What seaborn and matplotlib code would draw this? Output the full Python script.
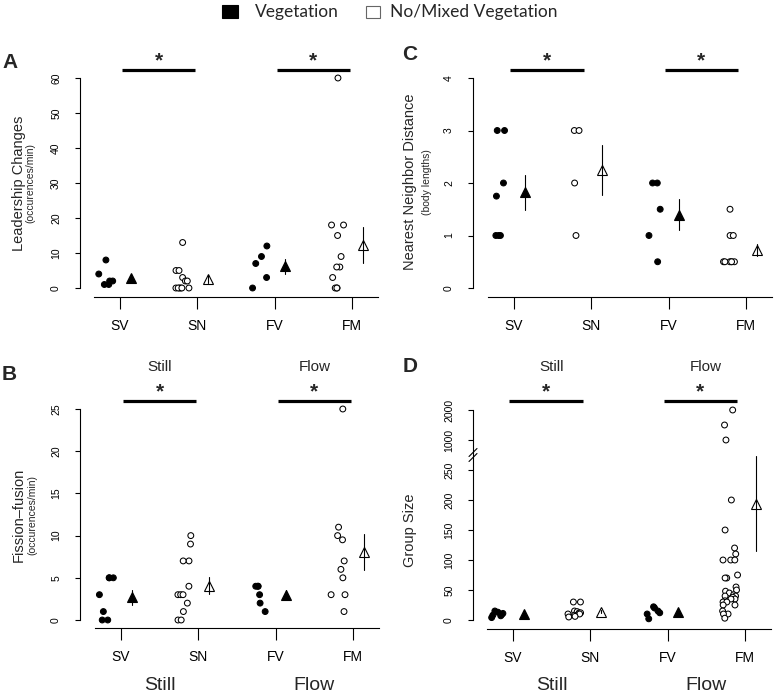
import numpy as np
import pandas as pd
import matplotlib
matplotlib.use("Agg")
import matplotlib.pyplot as plt
import matplotlib.transforms as mtrans
from matplotlib.patches import Rectangle
from matplotlib.lines import Line2D
import seaborn as sns

# ---------------- data ----------------
categories = ["SV", "SN", "FV", "FM"]
filled_groups = ["SV", "FV"]

lead_sv = [4, 2, 1, 1, 2, 8]
lead_sn = [13, 5, 5, 3, 2, 2, 0, 0, 0, 0, 0, 0]
lead_fv = [3, 0, 9, 12, 7]
lead_fm = [60, 18, 18, 15, 9, 6, 6, 3, 0, 0, 0]
lead_ticks = [0, 10, 20, 30, 40, 50, 60]

nnd_sv = [3, 3, 2, 1.75, 1, 1, 1]
nnd_sn = [3, 3, 2, 1]
nnd_fv = [2, 2, 1.5, 1, 0.5]
nnd_fm = [1.5, 1, 1, 0.5, 0.5, 0.5, 0.5, 0.5, 0.5]
nnd_ticks = [0, 1, 2, 3, 4]

ff_sv = [5, 5, 5, 3, 1, 0, 0]
ff_sn = [10, 9, 7, 7, 4, 3, 3, 3, 2, 1, 0, 0]
ff_fv = [4, 4, 4, 3, 2, 1]
ff_fm = [25, 11, 10, 9.5, 7, 6, 5, 3, 3, 1]
ff_ticks = [0, 5, 10, 15, 20, 25]

gs_sv = [15, 13, 11, 9, 8, 7, 4]
gs_sn = [30, 30, 15, 14, 12, 12, 10, 10, 8, 6, 5]
gs_fv = [22, 20, 15, 12, 10, 2]
gs_fm = [2000, 1500, 1000, 200, 150, 120, 110, 100, 100, 100, 75, 70, 70,
         55, 50, 48, 45, 42, 40, 40, 38, 35, 35, 32, 30, 30, 25, 25, 15, 10, 10, 3]
gs_ticks = [0, 50, 100, 150, 200, 250, 1000, 2000]

legend_labels = ["Vegetation", "No/Mixed Vegetation"]
treatments = ["Still", "Flow"]

# ---------------- style ----------------
sns.set_style("ticks")
plt.rcParams['font.family'] = ['Liberation Sans', 'DejaVu Sans']
np.random.seed(7)

W, H = 777, 695
fig = plt.figure(figsize=(W / 100, H / 100), dpi=100)
SP = 77.3  # px per category


def fx(px):
    return px / W


def fy(py):
    return 1 - py / H


def gs_fwd(v):
    v = np.asarray(v, dtype=float)
    return np.where(v <= 280, v, np.where(v < 1000, 280 + (v - 280) * (20 / 720), 300 + (v - 1000) * 0.05))


def gs_inv(t):
    t = np.asarray(t, dtype=float)
    return np.where(t <= 280, t, np.where(t < 300, 280 + (t - 280) * 36, 1000 + (t - 300) * 20))


def make_df(vals):
    rows = []
    for cat, v in zip(categories, vals):
        for x in v:
            rows.append({"group": cat, "value": x,
                         "fill": "filled" if cat in filled_groups else "open"})
    df = pd.DataFrame(rows)
    code = df["group"].map({c: i for i, c in enumerate(categories)})
    df["xp"] = code - 0.19
    df["xm"] = code + 0.14
    return df


def panel(vals, ticks, spine_px, tick0_px, y0_px, ytop_px, ytop_t, xaxis_px, top_px,
          bar_px, star_px, bar_span, broken=False):
    df = make_df(vals)
    right_px = tick0_px + 3.42 * SP
    ax = fig.add_axes([fx(spine_px), fy(xaxis_px), (right_px - spine_px) / W,
                       (xaxis_px - top_px) / H])
    ax.patch.set_visible(False)
    sns.stripplot(data=df, x="xp", y="value", hue="fill", native_scale=True,
                  jitter=0.1, palette={"filled": "black", "open": "white"},
                  edgecolor="black", linewidth=0.75, size=4.2, legend=False,
                  ax=ax, zorder=3)
    for fl, fc in (("filled", "black"), ("open", "white")):
        sub = df[df["fill"] == fl]
        sns.pointplot(data=sub, x="xm", y="value", native_scale=True,
                      errorbar="se", markers="^", linestyles="none",
                      color="black", markersize=7, markeredgewidth=0.8,
                      markerfacecolor=fc, markeredgecolor="black",
                      err_kws={"linewidth": 0.8, "color": "black"}, ax=ax)
    ppu = (y0_px - ytop_px) / ytop_t
    lo_t = -(xaxis_px - y0_px) / ppu
    hi_t = (y0_px - top_px) / ppu
    if broken:
        ax.set_yscale("function", functions=(gs_fwd, gs_inv))
        ax.set_ylim(lo_t, float(gs_inv(hi_t)))
    else:
        ax.set_ylim(lo_t, hi_t)
    ax.set_xlim((spine_px - tick0_px) / SP, (right_px - tick0_px) / SP)
    ax.set_xticks(range(len(categories)))
    ax.set_xticklabels(categories)
    ax.set_yticks(ticks)
    ax.set_yticklabels([str(t) for t in ticks])
    ax.set_xlabel("")
    ax.set_ylabel("")
    for s in ("top", "right"):
        ax.spines[s].set_visible(False)
    for s in ("left", "bottom"):
        ax.spines[s].set_linewidth(0.8)
        ax.spines[s].set_color("black")
    ax.spines["left"].set_bounds(0, ticks[-1])
    ax.spines["bottom"].set_bounds(-0.34, 3.34)
    ax.tick_params(axis="x", length=8.6, width=0.8, pad=7, labelsize=10, colors="black")
    ax.tick_params(axis="y", length=3.6, width=0.8, pad=10, labelsize=7.5,
                   labelrotation=90, colors="black")
    for lbl in ax.get_yticklabels():
        lbl.set_va("center")
    ax.grid(False)
    # significance bars
    bt = mtrans.blended_transform_factory(ax.transData, fig.transFigure)
    for start in (0, 2):
        ax.add_line(Line2D([start + bar_span[0], start + bar_span[1]], [fy(bar_px)] * 2,
                           transform=bt, color="black", lw=2.3, clip_on=False,
                           solid_capstyle="butt"))
        ax.text(start + (bar_span[0] + bar_span[1]) / 2, fy(star_px), "*",
                transform=bt, ha="center", va="center", fontsize=15,
                fontweight="bold", clip_on=False)
    if broken:
        yb = fy(455)
        for dy in (-2.5, 2.5):
            fig.add_artist(Line2D([fx(spine_px - 4), fx(spine_px + 4)],
                                  [yb + (dy - 4) / H, yb + (dy + 4) / H],
                                  transform=fig.transFigure, color="black", lw=0.8))
    return ax, bt


# ---- Panel A ----
axA, btA = panel([lead_sv, lead_sn, lead_fv, lead_fm], lead_ticks,
                 80, 120, 288, 78, 60, 297, 40, 70, 61, (0.03, 0.97))
# ---- Panel C ----
axC, btC = panel([nnd_sv, nnd_sn, nnd_fv, nnd_fm], nnd_ticks,
                 473, 514, 288, 78, 4, 297, 40, 70, 61, (-0.05, 0.9))
# ---- Panel B ----
axB, btB = panel([ff_sv, ff_sn, ff_fv, ff_fm], ff_ticks,
                 80, 121, 620, 409, 25, 628, 380, 401, 392, (0.03, 0.97))
# ---- Panel D ----
axD, btD = panel([gs_sv, gs_sn, gs_fv, gs_fm], gs_ticks,
                 473, 513, 620, 410, 350, 629, 380, 401, 392, (-0.05, 0.9),
                 broken=True)

# y-axis labels
def ylab(x_px, y_px, txt, size):
    fig.text(fx(x_px), fy(y_px), txt, rotation=90, ha="center", va="center",
             fontsize=size)

ylab(19, 183, "Leadership Changes", 10.5)
ylab(30, 183, "(occurences/min)", 7.5)
ylab(19, 515, "Fission\u2013fusion", 10.5)
ylab(32, 515, "(occurences/min)", 7.5)
ylab(410, 182, "Nearest Neighbor Distance", 10.5)
ylab(427, 182, "(body lengths)", 7.5)
ylab(410, 530, "Group Size", 10.5)

# treatment labels
for ax, bt in ((axB, btB), (axD, btD)):
    for i, t in enumerate(treatments):
        ax.text(0.5 + 2 * i, fy(367), t, transform=bt, ha="center", va="center",
                fontsize=11, clip_on=False)
        ax.text(0.5 + 2 * i, fy(685), t, transform=bt, ha="center", va="center",
                fontsize=14, clip_on=False)

# panel letters
for letter, x, y in (("A", 2, 62), ("B", 2, 375), ("C", 402, 55), ("D", 403, 367)):
    fig.text(fx(x), fy(y), letter, fontsize=15, fontweight="bold", ha="left",
             va="center")

# legend
fig.add_artist(Rectangle((fx(222), fy(18)), 16 / W, 13 / H, transform=fig.transFigure,
                         facecolor="black", edgecolor="black", lw=0.8))
fig.add_artist(Rectangle((fx(366), fy(18)), 14 / W, 12 / H, transform=fig.transFigure,
                         facecolor="white", edgecolor="#666666", lw=0.8))
fig.text(fx(255), fy(12), legend_labels[0], fontsize=12.5, ha="left", va="center",
         family=["Lato", "DejaVu Sans"])
fig.text(fx(390), fy(12), legend_labels[1], fontsize=12.5, ha="left", va="center",
         family=["Lato", "DejaVu Sans"])

fig.savefig("out.png", dpi=100)
